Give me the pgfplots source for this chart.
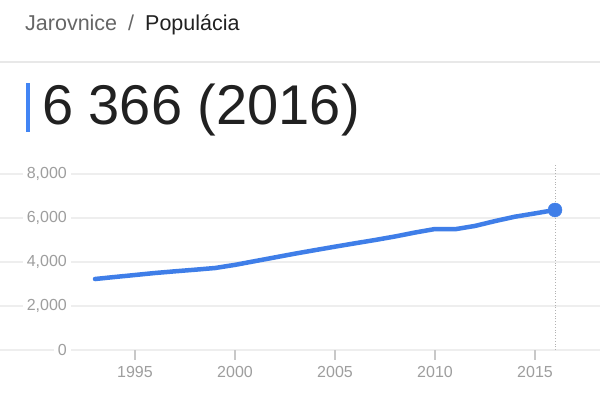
\documentclass[border=0pt]{standalone}
\usepackage{pgfplots}
\pgfplotsset{compat=1.18}
\usepackage{fontspec}
\setmainfont{Liberation Sans}
\definecolor{gblue}{HTML}{4285F4}
\definecolor{lineblue}{HTML}{3F7EE8}
\definecolor{ticklab}{HTML}{9E9E9E}
\definecolor{gridc}{HTML}{EEEEEE}
\definecolor{tickc}{HTML}{C8C8C8}
\definecolor{crumb}{HTML}{666666}
\definecolor{dark}{HTML}{212121}
\begin{document}
\begin{tikzpicture}[x=1bp,y=1bp]
\fill[white] (0,0) rectangle (600,392);
\useasboundingbox (0,0) rectangle (600,392);
\node[anchor=base west, inner sep=0pt, font=\fontsize{21.5bp}{24bp}\selectfont] at (25,362)
  {\textcolor{crumb}{Jarovnice}\hspace{11bp}\textcolor{crumb}{/}\hspace{11bp}\textcolor{dark}{Populácia}};
\draw[gridc!80!gray!60, line width=1.2bp] (0,330) -- (600,330);
\fill[gblue] (26,260) rectangle (30,309);
\node[anchor=base west, inner sep=0pt, font=\fontsize{56bp}{60bp}\selectfont, text=dark] at (42,268) {6 366 (2016)};
\begin{axis}[
  at={(0,42bp)}, anchor=south west,
  scale only axis, width=600bp, height=184.8bp,
  xmin=1988.25, xmax=2018.25, ymin=0, ymax=8400,
  axis line style={draw=none},
  ytick={0,2000,4000,6000,8000},
  yticklabels={0,{2,000},{4,000},{6,000},{8,000}},
  xtick={1995,2000,2005,2010,2015},
  xticklabels={1995,2000,2005,2010,2015},
  ymajorgrids, grid style={gridc, line width=1.2bp},
  ytick style={draw=none},
  xtick style={draw=none},
  tick label style={font=\fontsize{16bp}{18bp}\selectfont, text=ticklab},
  yticklabel style={anchor=east, xshift=71bp, fill=white, inner xsep=4bp, inner ysep=1bp},
  xticklabel style={yshift=-13bp},
  clip=false,
]
\draw[gray!60, dotted, line width=0.8bp] (axis cs:2016,0) -- (axis cs:2016,8400);
\draw[tickc, line width=1.2bp] (axis cs:1995,0) -- (axis cs:1995,-455);
\draw[tickc, line width=1.2bp] (axis cs:2000,0) -- (axis cs:2000,-455);
\draw[tickc, line width=1.2bp] (axis cs:2005,0) -- (axis cs:2005,-455);
\draw[tickc, line width=1.2bp] (axis cs:2010,0) -- (axis cs:2010,-455);
\draw[tickc, line width=1.2bp] (axis cs:2015,0) -- (axis cs:2015,-455);
\addplot[lineblue, line width=4.5bp, line join=round, line cap=round] coordinates {
(1993,3227) (1994,3320) (1995,3409) (1996,3500) (1997,3577) (1998,3650)
(1999,3727) (2000,3870) (2001,4040) (2002,4210) (2003,4380) (2004,4540)
(2005,4697) (2006,4850) (2007,5000) (2008,5160) (2009,5340) (2010,5500)
(2011,5490) (2012,5640) (2013,5860) (2014,6060) (2015,6210) (2016,6366)
};
\addplot[only marks, mark=*, mark size=7bp, mark options={fill=lineblue, draw=lineblue}] coordinates {(2016,6366)};
\end{axis}
\end{tikzpicture}
\end{document}
